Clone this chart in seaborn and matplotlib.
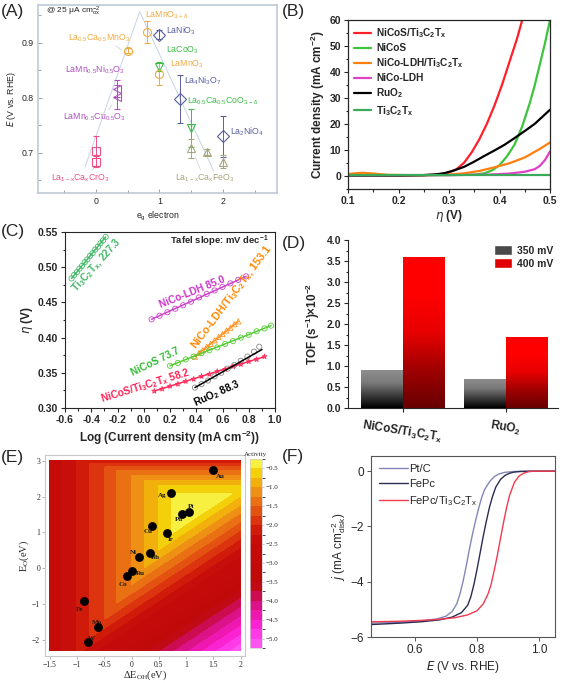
import numpy as np
import pandas as pd
import seaborn as sns
import matplotlib.pyplot as plt
from matplotlib.colors import ListedColormap, BoundaryNorm, LinearSegmentedColormap
from matplotlib.patches import Patch
from matplotlib.ticker import MultipleLocator, FormatStrFormatter

# ---------------- data ----------------
# (A) volcano of perovskites
eg_x = [0, 0, 0.33, 0.33, 0.5, 0.8, 1.0, 1.0, 1.0, 1.33, 1.5, 1.5, 1.75, 2.0, 2.0]
eg_E = [0.703, 0.684, 0.817, 0.802, 0.886, 0.920, 0.915, 0.857, 0.843, 0.798, 0.745, 0.708, 0.702, 0.730, 0.684]
eg_err = [0.027, 0.010, 0.015, 0.022, 0.005, 0.020, 0.008, 0.008, 0.020, 0.044, 0.035, 0.018, 0.005, 0.037, 0.012]
eg_marker = ["s", "s", "<", "<", "o", "o", "D", "v", "o", "D", "v", "^", "^", "D", "^"]
eg_family = ["Cr", "Cr", "Mn", "Mn", "Mn2", "Mn2", "Ni", "Co", "Mn2", "Ni", "Co", "Fe", "Fe", "Ni", "Fe"]
volcano_x = [-0.17, 0.69, 1.85]
volcano_y = [0.674, 0.957, 0.668]

# (B) polarisation curves
eta_red = [0.10, 0.15, 0.20, 0.25, 0.28, 0.30, 0.315, 0.33, 0.345, 0.36, 0.375, 0.39, 0.405, 0.42, 0.435, 0.445]
j_red = [0.3, 0.2, 0.1, 0.2, 0.5, 1.2, 2.5, 5.0, 9.0, 14.0, 20.0, 27.0, 35.0, 44.0, 53.0, 60.0]
eta_nicos = [0.10, 0.20, 0.30, 0.35, 0.37, 0.385, 0.40, 0.415, 0.43, 0.445, 0.46, 0.47, 0.48, 0.49, 0.50]
j_nicos = [0.1, 0.1, 0.2, 0.4, 0.9, 2.0, 4.0, 7.5, 12.0, 19.0, 28.0, 35.0, 43.0, 51.0, 60.0]
eta_ldh_ti = [0.10, 0.12, 0.13, 0.15, 0.18, 0.22, 0.26, 0.30, 0.33, 0.36, 0.39, 0.42, 0.45, 0.48, 0.50]
j_ldh_ti = [0.6, 1.0, 1.1, 0.8, 0.3, 0.2, 0.2, 0.4, 0.9, 1.8, 3.2, 4.8, 7.0, 10.3, 12.8]
eta_ldh = [0.10, 0.30, 0.38, 0.42, 0.45, 0.47, 0.48, 0.49, 0.50]
j_ldh = [0.1, 0.2, 0.4, 0.8, 1.5, 2.5, 3.8, 6.0, 9.3]
eta_ruo2 = [0.10, 0.20, 0.25, 0.27, 0.29, 0.31, 0.33, 0.35, 0.37, 0.39, 0.41, 0.43, 0.45, 0.47, 0.49, 0.50]
j_ruo2 = [0.1, 0.1, 0.2, 0.4, 0.9, 2.0, 3.4, 5.4, 7.6, 9.7, 11.9, 14.5, 17.2, 20.0, 23.6, 25.4]
eta_ti = [0.10, 0.30, 0.50]
j_ti = [0.3, 0.3, 0.3]

# (C) Tafel plots
taf_ti_x = [-0.55, -0.53, -0.51, -0.49, -0.47, -0.45, -0.43, -0.41, -0.39, -0.37, -0.35, -0.33, -0.31, -0.29]
taf_ti_y = [0.484, 0.489, 0.493, 0.498, 0.502, 0.507, 0.511, 0.516, 0.520, 0.525, 0.529, 0.534, 0.538, 0.543]
taf_ldh_x = [0.06, 0.12, 0.18, 0.24, 0.30, 0.36, 0.42, 0.48, 0.54, 0.60, 0.66, 0.72, 0.78]
taf_ldh_y = [0.426, 0.431, 0.436, 0.441, 0.446, 0.451, 0.457, 0.462, 0.467, 0.472, 0.477, 0.482, 0.487]
taf_ldhti_x = [0.39, 0.42, 0.45, 0.48, 0.51, 0.54, 0.57, 0.60, 0.63, 0.66, 0.69, 0.72]
taf_ldhti_y = [0.373, 0.378, 0.382, 0.387, 0.391, 0.396, 0.401, 0.405, 0.410, 0.414, 0.419, 0.423]
taf_nicos_x = [0.20, 0.26, 0.32, 0.38, 0.44, 0.50, 0.56, 0.62, 0.68, 0.74, 0.80, 0.86, 0.92, 0.97]
taf_nicos_y = [0.360, 0.364, 0.369, 0.373, 0.378, 0.382, 0.386, 0.391, 0.395, 0.400, 0.404, 0.409, 0.413, 0.417]
taf_red_x = [0.08, 0.14, 0.20, 0.26, 0.32, 0.38, 0.44, 0.50, 0.56, 0.62, 0.68, 0.74, 0.80, 0.86, 0.92]
taf_red_y = [0.324, 0.327, 0.331, 0.334, 0.338, 0.341, 0.345, 0.348, 0.352, 0.355, 0.359, 0.362, 0.366, 0.369, 0.373]
taf_ruo2_x = [0.39, 0.44, 0.49, 0.54, 0.59, 0.64, 0.69, 0.74, 0.79, 0.84, 0.88]
taf_ruo2_y = [0.329, 0.334, 0.339, 0.345, 0.350, 0.356, 0.361, 0.367, 0.373, 0.380, 0.387]
fit_ruo2_x = [0.39, 0.90]
fit_ruo2_y = [0.329, 0.383]

# (D) TOF
tof_samples = ["NiCoS/Ti$_3$C$_2$T$_x$", "NiCoS/Ti$_3$C$_2$T$_x$", "RuO$_2$", "RuO$_2$"]
tof_volt = ["350 mV", "400 mV", "350 mV", "400 mV"]
tof_vals = [0.9, 3.6, 0.7, 1.7]

# (E) activity map: band edges
left_edge_x = [-1.6, -1.27, -0.77, -0.49, -0.28, -0.01, 0.23, 0.49, 0.735, 2.1]
left_edge_lv = [-2.8, -2.5, -2.0, -1.75, -1.5, -1.25, -1.0, -0.75, -0.5, 0.9]
top_edge_y = [-2.4, 2.08, 2.30, 2.46, 2.60, 2.72, 2.83, 2.93, 3.2]
top_edge_lv = [2.0, -0.5, -0.75, -1.0, -1.25, -1.5, -1.75, -2.0, -2.6]
diag_edge_d = [-4.6, -2.80, -1.17, -0.93, -0.70, -0.45, -0.22, 0.02, 0.24, 5.0]
diag_edge_lv = [-5.5, -3.75, -2.0, -1.75, -1.5, -1.25, -1.0, -0.75, -0.5, 3.0]
act_levels = [-5.25, -5.0, -4.75, -4.5, -4.25, -4.0, -3.75, -3.5, -3.25, -3.0, -2.75,
              -2.5, -2.25, -2.0, -1.75, -1.5, -1.25, -1.0, -0.75, -0.5, -0.25]
act_colors = ["#ff55f0", "#ff3ae6", "#fb22d2", "#ee18b0", "#dc1288", "#cc0c50", "#c00a14",
              "#c00a0a", "#c20a0a", "#c40a0a", "#c50b0a", "#c80e0a", "#d01a0a", "#dc340e",
              "#e45212", "#ea7014", "#ee9014", "#f2b00c", "#f4d00a", "#f8f040"]
metal_names = ["Au", "Ag", "Pt", "Pd", "Cu", "Ir", "Ni", "Rh", "Ru", "Co", "Fe", "Mo", "W"]
metal_doh = [1.50, 0.72, 1.06, 0.925, 0.373, 0.64, 0.134, 0.34, 0.0, -0.08, -0.88, -0.61, -0.80]
metal_eo = [2.74, 2.11, 1.56, 1.51, 1.18, 0.99, 0.32, 0.42, -0.07, -0.23, -0.91, -1.64, -2.07]
metal_off = [(5, -5), (-6, -2), (1, 4), (-2, -4), (-3, -4), (3, -5), (-4, 3), (4, -3),
             (6, -2), (-3, -6), (-3, -6.5), (-1, 3.5), (2.5, 3)]

# (F) ORR curves
E_ptc = [0.46, 0.55, 0.62, 0.67, 0.70, 0.72, 0.735, 0.745, 0.755, 0.765, 0.775, 0.785, 0.795,
         0.805, 0.815, 0.825, 0.84, 0.855, 0.87, 0.89, 0.92, 0.96, 1.05]
j_ptc = [-5.50, -5.47, -5.42, -5.35, -5.25, -5.08, -4.80, -4.45, -4.00, -3.45, -2.85, -2.30, -1.80,
         -1.35, -0.95, -0.65, -0.38, -0.20, -0.10, -0.04, -0.01, 0.0, 0.0]
E_fepc = [0.46, 0.55, 0.62, 0.68, 0.72, 0.75, 0.77, 0.78, 0.79, 0.80, 0.81, 0.82, 0.83, 0.84,
          0.85, 0.86, 0.875, 0.89, 0.905, 0.92, 0.94, 0.97, 1.05]
j_fepc = [-5.55, -5.50, -5.45, -5.38, -5.28, -5.12, -4.85, -4.55, -4.10, -3.55, -2.95, -2.35, -1.80,
          -1.30, -0.90, -0.58, -0.30, -0.15, -0.07, -0.03, -0.01, 0.0, 0.0]
E_fepc_ti = [0.46, 0.55, 0.62, 0.68, 0.73, 0.77, 0.80, 0.82, 0.835, 0.845, 0.855, 0.865, 0.875,
             0.885, 0.895, 0.905, 0.92, 0.935, 0.95, 0.965, 0.98, 1.05]
j_fepc_ti = [-5.45, -5.43, -5.40, -5.36, -5.30, -5.20, -5.05, -4.80, -4.45, -4.10, -3.60, -3.05,
             -2.45, -1.85, -1.30, -0.85, -0.40, -0.17, -0.07, -0.02, 0.0, 0.0]

# ---------------- figure ----------------
sns.set_style("ticks")
plt.rcParams['font.family'] = ['Liberation Sans', 'DejaVu Sans']
plt.rcParams['mathtext.default'] = 'regular'

W, H = 562, 683
fig = plt.figure(figsize=(W / 100, H / 100), dpi=100)


def add_ax(l, t, r, b):
    return fig.add_axes([l / W, 1 - b / H, (r - l) / W, (b - t) / H])


for lab, x, y in [("(A)", 1, 4), ("(B)", 282, 4), ("(C)", 1, 224), ("(D)", 282, 236),
                  ("(E)", 1, 450), ("(F)", 282, 449)]:
    fig.text(x / W, 1 - y / H, lab, fontsize=12.5, va="top", ha="left")

# ---- (A)
axA = add_ax(38, 5, 277, 193)
fam_col = {"Cr": "#ee4f86", "Mn": "#b050c0", "Mn2": "#f2aa40", "Ni": "#5a5fa0",
           "Co": "#3cbc46", "Fe": "#a8a67c"}
sns.lineplot(x=volcano_x, y=volcano_y, sort=False, color="#c6d4e6", lw=0.7, ax=axA)
for x, y, e, m, f in zip(eg_x, eg_E, eg_err, eg_marker, eg_family):
    axA.errorbar(x, y, yerr=e, fmt=m, ms=5.8, mfc="none", mec=fam_col[f], mew=0.8,
                 ecolor=fam_col[f], elinewidth=0.7, capsize=2.2, capthick=0.7)
a_labels = [("La$_{1-x}$Ca$_x$CrO$_3$", -0.25, 0.654, "Cr"),
            ("LaMn$_{0.5}$Cu$_{0.5}$O$_3$", -0.03, 0.765, "Mn"),
            ("LaMn$_{0.5}$Ni$_{0.5}$O$_3$", -0.01, 0.852, "Mn"),
            ("La$_{0.5}$Ca$_{0.5}$MnO$_3$", 0.05, 0.908, "Mn2"),
            ("LaMnO$_{3+\\delta}$", 1.11, 0.951, "Mn2"),
            ("LaNiO$_3$", 1.34, 0.922, "Ni"),
            ("LaCoO$_3$", 1.37, 0.887, "Co"),
            ("LaMnO$_3$", 1.43, 0.862, "Mn2"),
            ("La$_4$Ni$_3$O$_7$", 1.68, 0.831, "Ni"),
            ("La$_{0.5}$Ca$_{0.5}$CoO$_{3-\\delta}$", 2.0, 0.794, "Co"),
            ("La$_2$NiO$_4$", 2.38, 0.739, "Ni"),
            ("La$_{1-x}$Ca$_x$FeO$_3$", 1.72, 0.654, "Fe")]
for t, x, y, f in a_labels:
    axA.text(x, y, t, color=fam_col[f], fontsize=6.3, ha="center", va="center")
# thin leader lines from a few labels to their markers
for (x0, y0), (x1, y1) in [((-0.08, 0.664), (-0.01, 0.676)), ((0.18, 0.774), (0.28, 0.792)),
                           ((1.66, 0.665), (1.55, 0.697)), ((0.28, 0.897), (0.45, 0.884))]:
    axA.annotate("", xy=(x1, y1), xytext=(x0, y0),
                 arrowprops=dict(arrowstyle="-", color="#c8cfd8", lw=0.5))
axA.text(-0.78, 0.958, "@ 25 $\\mu$A cm$_{ox}^{-2}$", fontsize=6, va="center")
axA.set_xlim(-0.91, 2.85)
axA.set_ylim(0.627, 0.969)
axA.set_xticks([0, 1, 2])
axA.set_yticks([0.7, 0.8, 0.9])
axA.xaxis.set_minor_locator(MultipleLocator(0.5))
axA.yaxis.set_minor_locator(MultipleLocator(0.05))
axA.tick_params(which="both", direction="in", color="#8a96a8", width=0.6, labelsize=6.3, pad=3)
axA.tick_params(which="major", length=3)
axA.tick_params(which="minor", length=2)
for s in axA.spines.values():
    s.set_color("#b9c6d3")
    s.set_linewidth(1.1)
axA.set_xlabel("e$_g$ electron", fontsize=6.3, labelpad=3)
axA.set_ylabel("$\\it{E}$ (V vs. RHE)", fontsize=6.3, labelpad=3)

# ---- (B)
axB = add_ax(348, 20, 550, 188.6)
b_series = [(eta_red, j_red, "NiCoS/Ti$_3$C$_2$T$_x$", "#ff1f2a"),
            (eta_nicos, j_nicos, "NiCoS", "#3cc43c"),
            (eta_ldh_ti, j_ldh_ti, "NiCo-LDH/Ti$_3$C$_2$T$_x$", "#ff7f0e"),
            (eta_ldh, j_ldh, "NiCo-LDH", "#e040c8"),
            (eta_ruo2, j_ruo2, "RuO$_2$", "#000000"),
            (eta_ti, j_ti, "Ti$_3$C$_2$T$_x$", "#3aaa5a")]
for ex, jy, lab, c in b_series:
    sns.lineplot(x=ex, y=jy, color=c, lw=1.6, label=lab, ax=axB)
axB.set_xlim(0.1, 0.5)
axB.set_ylim(-5, 60)
axB.xaxis.set_major_locator(MultipleLocator(0.1))
axB.xaxis.set_minor_locator(MultipleLocator(0.05))
axB.yaxis.set_major_locator(MultipleLocator(10))
axB.yaxis.set_minor_locator(MultipleLocator(5))
axB.xaxis.set_major_formatter(FormatStrFormatter("%.1f"))
axB.tick_params(which="both", direction="out", width=0.8, labelsize=7.5, pad=2)
axB.tick_params(which="major", length=3)
axB.tick_params(which="minor", length=1.8)
for t in axB.get_xticklabels() + axB.get_yticklabels():
    t.set_fontweight("bold")
axB.set_xlabel("$\\it{\\eta}$ (V)", fontsize=8.5, fontweight="bold", labelpad=2)
axB.set_ylabel("Current density (mA cm$^{-2}$)", fontsize=8.5, fontweight="bold", labelpad=2)
legB = axB.legend(loc="upper left", frameon=False, prop={"weight": "bold", "size": 7.3},
                  handlelength=1.7, labelspacing=0.32, borderaxespad=0.2, handletextpad=0.5)
for s in axB.spines.values():
    s.set_linewidth(0.9)

# ---- (C)
axC = add_ax(65, 232, 275, 408)
c_series = [(taf_ti_x, taf_ti_y, "#44b868", "o"),
            (taf_ldh_x, taf_ldh_y, "#cc44cc", "o"),
            (taf_ldhti_x, taf_ldhti_y, "#ff9020", "^"),
            (taf_nicos_x, taf_nicos_y, "#55cc33", "o"),
            (taf_red_x, taf_red_y, "#ff2a5a", "*")]
for xs, ys, c, m in c_series:
    sns.scatterplot(x=xs, y=ys, marker=m, s=14, facecolor="none", edgecolor=c, linewidth=0.6, ax=axC)
    sns.lineplot(x=[xs[0], xs[-1]], y=[ys[0], ys[-1]], color=c, lw=1.1, ax=axC)
sns.scatterplot(x=taf_ruo2_x, y=taf_ruo2_y, marker="o", s=14, facecolor="none",
                edgecolor="#888888", linewidth=0.6, ax=axC)
sns.lineplot(x=fit_ruo2_x, y=fit_ruo2_y, color="black", lw=1.1, ax=axC)
c_labels = [("Ti$_3$C$_2$T$_x$, 227.3", -0.355, 0.503, 48, "#44b868", 7.3),
            ("NiCo-LDH 85.0", 0.37, 0.464, 22, "#cc33cc", 7.3),
            ("NiCo-LDH/Ti$_3$C$_2$T$_x$, 153.1", 0.67, 0.458, 53, "#ff8800", 7.8),
            ("NiCoS 73.7", 0.089, 0.366, 26, "#33bb33", 7.3),
            ("NiCoS/Ti$_3$C$_2$T$_x$ 58.2", 0.012, 0.332, 17, "#ff2255", 7.3),
            ("RuO$_2$ 88.3", 0.56, 0.321, 24, "#000000", 7.3)]
for t, x, y, r, c, fs in c_labels:
    axC.text(x, y, t, rotation=r, color=c, fontsize=fs, fontweight="bold",
             ha="center", va="center", rotation_mode="anchor")
axC.text(0.97, 0.93, "Tafel slope: mV dec$^{-1}$", transform=axC.transAxes, ha="right",
         fontsize=6.8, fontweight="bold")
axC.set_xlim(-0.6, 1.0)
axC.set_ylim(0.30, 0.55)
axC.xaxis.set_major_locator(MultipleLocator(0.2))
axC.xaxis.set_minor_locator(MultipleLocator(0.1))
axC.yaxis.set_major_locator(MultipleLocator(0.05))
axC.yaxis.set_minor_locator(MultipleLocator(0.025))
axC.xaxis.set_major_formatter(FormatStrFormatter("%.1f"))
axC.yaxis.set_major_formatter(FormatStrFormatter("%.2f"))
axC.tick_params(which="both", direction="out", width=0.8, labelsize=7.5, pad=2)
axC.tick_params(which="major", length=3)
axC.tick_params(which="minor", length=1.8)
for t in axC.get_xticklabels() + axC.get_yticklabels():
    t.set_fontweight("bold")
axC.set_xlabel("Log (Current density (mA cm$^{-2}$))", fontsize=8.5, fontweight="bold", labelpad=3)
axC.set_ylabel("$\\it{\\eta}$ (V)", fontsize=8.5, fontweight="bold", labelpad=2)

# ---- (D)
axD = add_ax(348, 240, 558, 408)
df_tof = pd.DataFrame({"sample": tof_samples, "volt": tof_volt, "tof": tof_vals})
sns.barplot(data=df_tof, x="sample", y="tof", hue="volt", palette={"350 mV": "#555555", "400 mV": "#dd0000"},
            width=0.8, legend=False, ax=axD, saturation=1)
gray_grad = LinearSegmentedColormap.from_list("gg", ["#000000", "#3c3c3c", "#7a7a7a", "#8e8e8e"])
red_grad = LinearSegmentedColormap.from_list("rg", ["#680000", "#a00000", "#e80000", "#ff0000", "#ff0000"])
grad = np.linspace(1, 0, 200).reshape(-1, 1)
for p in list(axD.patches):
    if p.get_height() <= 0:
        continue
    x0, y0, w, h = p.get_x(), p.get_y(), p.get_width(), p.get_height()
    is_red = p.get_facecolor()[0] > 0.6 and p.get_facecolor()[1] < 0.3
    im = axD.imshow(grad, cmap=red_grad if is_red else gray_grad, aspect="auto",
                    extent=[x0, x0 + w, y0, y0 + h], origin="upper", zorder=3)
    im.set_clip_path(p)
    p.set_edgecolor("#ff7070" if is_red else "#666666")
    p.set_linewidth(0.5)
axD.set_xlim(-0.53, 1.51)
axD.set_ylim(0, 4.0)
axD.yaxis.set_major_locator(MultipleLocator(0.5))
axD.yaxis.set_minor_locator(MultipleLocator(0.25))
axD.yaxis.set_major_formatter(FormatStrFormatter("%.1f"))
axD.tick_params(which="both", direction="out", width=0.8, labelsize=7.5, pad=2)
axD.tick_params(which="major", length=3)
axD.tick_params(which="minor", length=1.8)
axD.tick_params(axis="x", labelsize=8.5, pad=4)
sns.despine(ax=axD)
for t in axD.get_yticklabels():
    t.set_fontweight("bold")
for t in axD.get_xticklabels():
    t.set_fontweight("bold")
    t.set_rotation(-9)
axD.set_xlabel("")
axD.set_ylabel("TOF (s$^{-1}$)$\\times$10$^{-2}$", fontsize=8.5, fontweight="bold", labelpad=3)
axD.legend(handles=[Patch(facecolor="#4a4a4a"), Patch(facecolor="#e00000")],
           labels=["350 mV", "400 mV"], loc="upper right", frameon=False,
           prop={"weight": "bold", "size": 7.5}, handlelength=1.8, handleheight=1.1,
           labelspacing=0.25, borderaxespad=0.1, handletextpad=0.4)

# ---- (E)
axE = add_ax(45, 455, 245, 656)
gx = np.linspace(-1.5, 2.0, 351)
gy = np.linspace(-2.3, 3.0, 531)
GX, GY = np.meshgrid(gx, gy)
act = np.minimum(np.interp(GX, left_edge_x, left_edge_lv), np.interp(GY, top_edge_y, top_edge_lv))
act = np.minimum(act, np.interp(GY - GX, diag_edge_d, diag_edge_lv))
act = np.clip(act, -5.24, -0.26)
act_cmap = ListedColormap(act_colors)
act_norm = BoundaryNorm(act_levels, act_cmap.N)
cs = axE.contourf(GX, GY, act, levels=act_levels, cmap=act_cmap, norm=act_norm)
sns.scatterplot(x=metal_doh, y=metal_eo, color="black", s=34, edgecolor="black", zorder=5, ax=axE)
for n, x, y, (dx, dy) in zip(metal_names, metal_doh, metal_eo, metal_off):
    axE.annotate(n, (x, y), xytext=(dx, dy), textcoords="offset points", ha="center", va="center",
                 fontsize=5, family="Liberation Serif", fontweight="bold", color="#1a1a1a")
axE.set_xlim(-1.59, 2.08)
axE.set_ylim(-2.45, 3.16)
axE.set_xticks([-1.5, -1, -0.5, 0, 0.5, 1, 1.5, 2])
axE.set_xticklabels(["\u22121.5", "\u22121", "\u22120.5", "0", "0.5", "1", "1.5", "2"])
axE.set_yticks([-2, -1, 0, 1, 2, 3])
axE.set_yticklabels(["\u22122", "\u22121", "0", "1", "2", "3"])
axE.tick_params(direction="out", length=2, width=0.5, color="#999999", labelsize=5.5, pad=1.5)
for t in axE.get_xticklabels() + axE.get_yticklabels():
    t.set_family("Liberation Serif")
for s in axE.spines.values():
    s.set_color("#c8c8c8")
    s.set_linewidth(0.8)
axE.set_xlabel("$\\Delta$E$_{OH}$(eV)", fontsize=7.5, family="Liberation Serif", labelpad=0)
axE.set_ylabel("E$_O$(eV)", fontsize=7.5, family="Liberation Serif", labelpad=1)
caxE = add_ax(250, 459, 262, 648)
cb = fig.colorbar(cs, cax=caxE, ticks=[-0.5, -1.0, -1.5, -2.0, -2.5, -3.0, -3.5, -4.0, -4.5, -5.0])
cb.ax.set_yticklabels(["\u22120.5", "\u22121.0", "\u22121.5", "\u22122.0", "\u22122.5", "\u22123.0",
                       "\u22123.5", "\u22124.0", "\u22124.5", "\u22125.0"])
cb.ax.tick_params(length=1.5, width=0.4, labelsize=5, pad=1, color="#999999")
for t in cb.ax.get_yticklabels():
    t.set_family("Liberation Serif")
cb.outline.set_edgecolor("#cccccc")
cb.outline.set_linewidth(0.5)
cb.ax.set_title("Activity", fontsize=5, family="Liberation Serif", pad=2)

# ---- (F)
axF = add_ax(371, 456, 555, 637)
sns.lineplot(x=E_ptc, y=j_ptc, color="#8386b8", lw=1.0, label="Pt/C", ax=axF)
sns.lineplot(x=E_fepc, y=j_fepc, color="#2a2c52", lw=1.0, label="FePc", ax=axF)
sns.lineplot(x=E_fepc_ti, y=j_fepc_ti, color="#f03a50", lw=1.0, label="FePc/Ti$_3$C$_2$T$_x$", ax=axF)
axF.set_xlim(0.46, 1.05)
axF.set_ylim(-6, 0.55)
axF.set_xticks([0.6, 0.8, 1.0])
axF.set_yticks([0, -2, -4, -6])
axF.xaxis.set_major_formatter(FormatStrFormatter("%.1f"))
axF.tick_params(direction="out", length=3, width=0.7, color="#555555", labelsize=8.5, pad=2)
for s in axF.spines.values():
    s.set_color("#555555")
    s.set_linewidth(0.8)
axF.set_xlabel("$\\it{E}$ (V vs. RHE)", fontsize=8.5, labelpad=2)
axF.set_ylabel("$\\it{j}$ (mA cm$_{disk}^{-2}$)", fontsize=8.5, labelpad=2)
axF.legend(loc="upper left", frameon=False, fontsize=8, handlelength=2.6, labelspacing=0.45,
           borderaxespad=0.3, handletextpad=0.1)

fig.savefig("out.png", dpi=100)
